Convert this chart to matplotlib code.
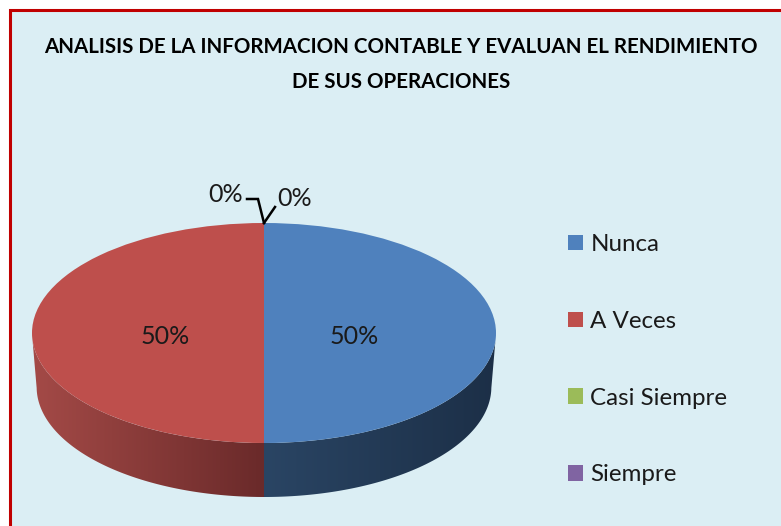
# coding: utf-8
import numpy as np
import matplotlib
matplotlib.use('Agg')
import matplotlib.pyplot as plt
from matplotlib.colors import LinearSegmentedColormap
from matplotlib.patches import Polygon, Rectangle

categories = ['Nunca', 'A Veces', 'Casi Siempre', 'Siempre']
values = [50, 50, 0, 0]
pct_labels = ['50%', '50%', '0%', '0%']
colors = ['#4F81BD', '#BE4F4C', '#9BBB59', '#8064A2']
# wall shading, from the front of the pie outwards
wall_colors = {0: ('#2A4564', '#1C2F47'), 1: ('#6A2A2A', '#A44A47')}
title_lines = ['ANALISIS DE LA INFORMACION CONTABLE Y EVALUAN EL RENDIMIENTO',
               'DE SUS OPERACIONES']

W, H = 781, 526
CX, CY, RX, RY, DEPTH = 264, 333, 232, 110, 54
FONT = 'Lato'

fig = plt.figure(figsize=(W / 100, H / 100), dpi=100, facecolor='white')

# pixel canvas for the frame
back = fig.add_axes([0, 0, 1, 1], zorder=0)
back.set_xlim(0, W)
back.set_ylim(H, 0)
back.axis('off')
back.add_patch(Rectangle((9.5, 9.5), W + 20, H + 20, facecolor='#DBEEF4',
                         edgecolor='#C00000', linewidth=2.2))

# pie axes: the unit circle is squashed into the ellipse
bottom = H - (CY + RY + DEPTH)
depth = DEPTH / RY
ax = fig.add_axes([(CX - RX) / W, bottom / H, 2 * RX / W,
                   (2 * RY + DEPTH) / H], zorder=1)
wedges, _ = ax.pie(values, colors=colors, startangle=90, counterclock=False,
                   radius=1)

# side wall, one shaded piece per visible slice
start = 90.0
for i, v in enumerate(values):
    end = start - 360.0 * v / sum(values)
    t = np.radians(np.linspace(start, end, 200))
    t = t[np.sin(t) <= 1e-9]
    if v > 0 and len(t) > 1:
        x, y = np.cos(t), np.sin(t)
        # lower rim is a little narrower, the pie is seen in perspective
        poly = Polygon(np.r_[np.c_[x, y], np.c_[x[::-1] * 0.98, y[::-1] - depth]],
                       transform=ax.transData, facecolor='none', edgecolor='none')
        ax.add_patch(poly)
        cmap = LinearSegmentedColormap.from_list('wall', wall_colors[i])
        grad = np.abs(np.linspace(x.min(), x.max(), 256))[None, :]
        im = ax.imshow(grad, cmap=cmap, vmin=0, vmax=1, aspect='auto',
                       extent=(x.min(), x.max(), -1 - depth, 0), zorder=0.5)
        im.set_clip_path(poly)
    start = end
ax.set_xlim(-1, 1)
ax.set_ylim(-1 - depth, 1)

over = fig.add_axes([0, 0, 1, 1], zorder=2)
over.set_xlim(0, W)
over.set_ylim(H, 0)
over.axis('off')
over.patch.set_alpha(0)

label_font = {'family': FONT, 'color': '#1A1A1A', 'ha': 'center', 'va': 'center',
              'fontsize': 18}
over.text(354, 337, pct_labels[0], **label_font)
over.text(165, 337, pct_labels[1], **label_font)
over.text(226, 194, pct_labels[2], **label_font)
over.text(295, 199, pct_labels[3], **label_font)

# leader lines of the two empty slices
over.plot([247, 258, 264], [199, 199, 223], color='black', lw=1.8,
          solid_joinstyle='miter')
over.plot([264, 275], [223, 207], color='black', lw=1.8)

over.text(400.5, 47, title_lines[0], fontsize=14.8, fontweight='bold',
          family=FONT, ha='center', va='center', color='black')
over.text(401, 82, title_lines[1], fontsize=14.8, fontweight='bold',
          family=FONT, ha='center', va='center', color='black')

leg = fig.legend(wedges, categories, loc='upper left',
                 bbox_to_anchor=(568 / W, 1 - 234 / H), frameon=False,
                 prop={'family': FONT, 'size': 17.4},
                 labelcolor='#1A1A1A', handlelength=0.6, handleheight=0.6,
                 handletextpad=0.33, labelspacing=2.31, borderpad=0, borderaxespad=0)
leg.set_zorder(3)

fig.savefig('out.png', dpi=100)
